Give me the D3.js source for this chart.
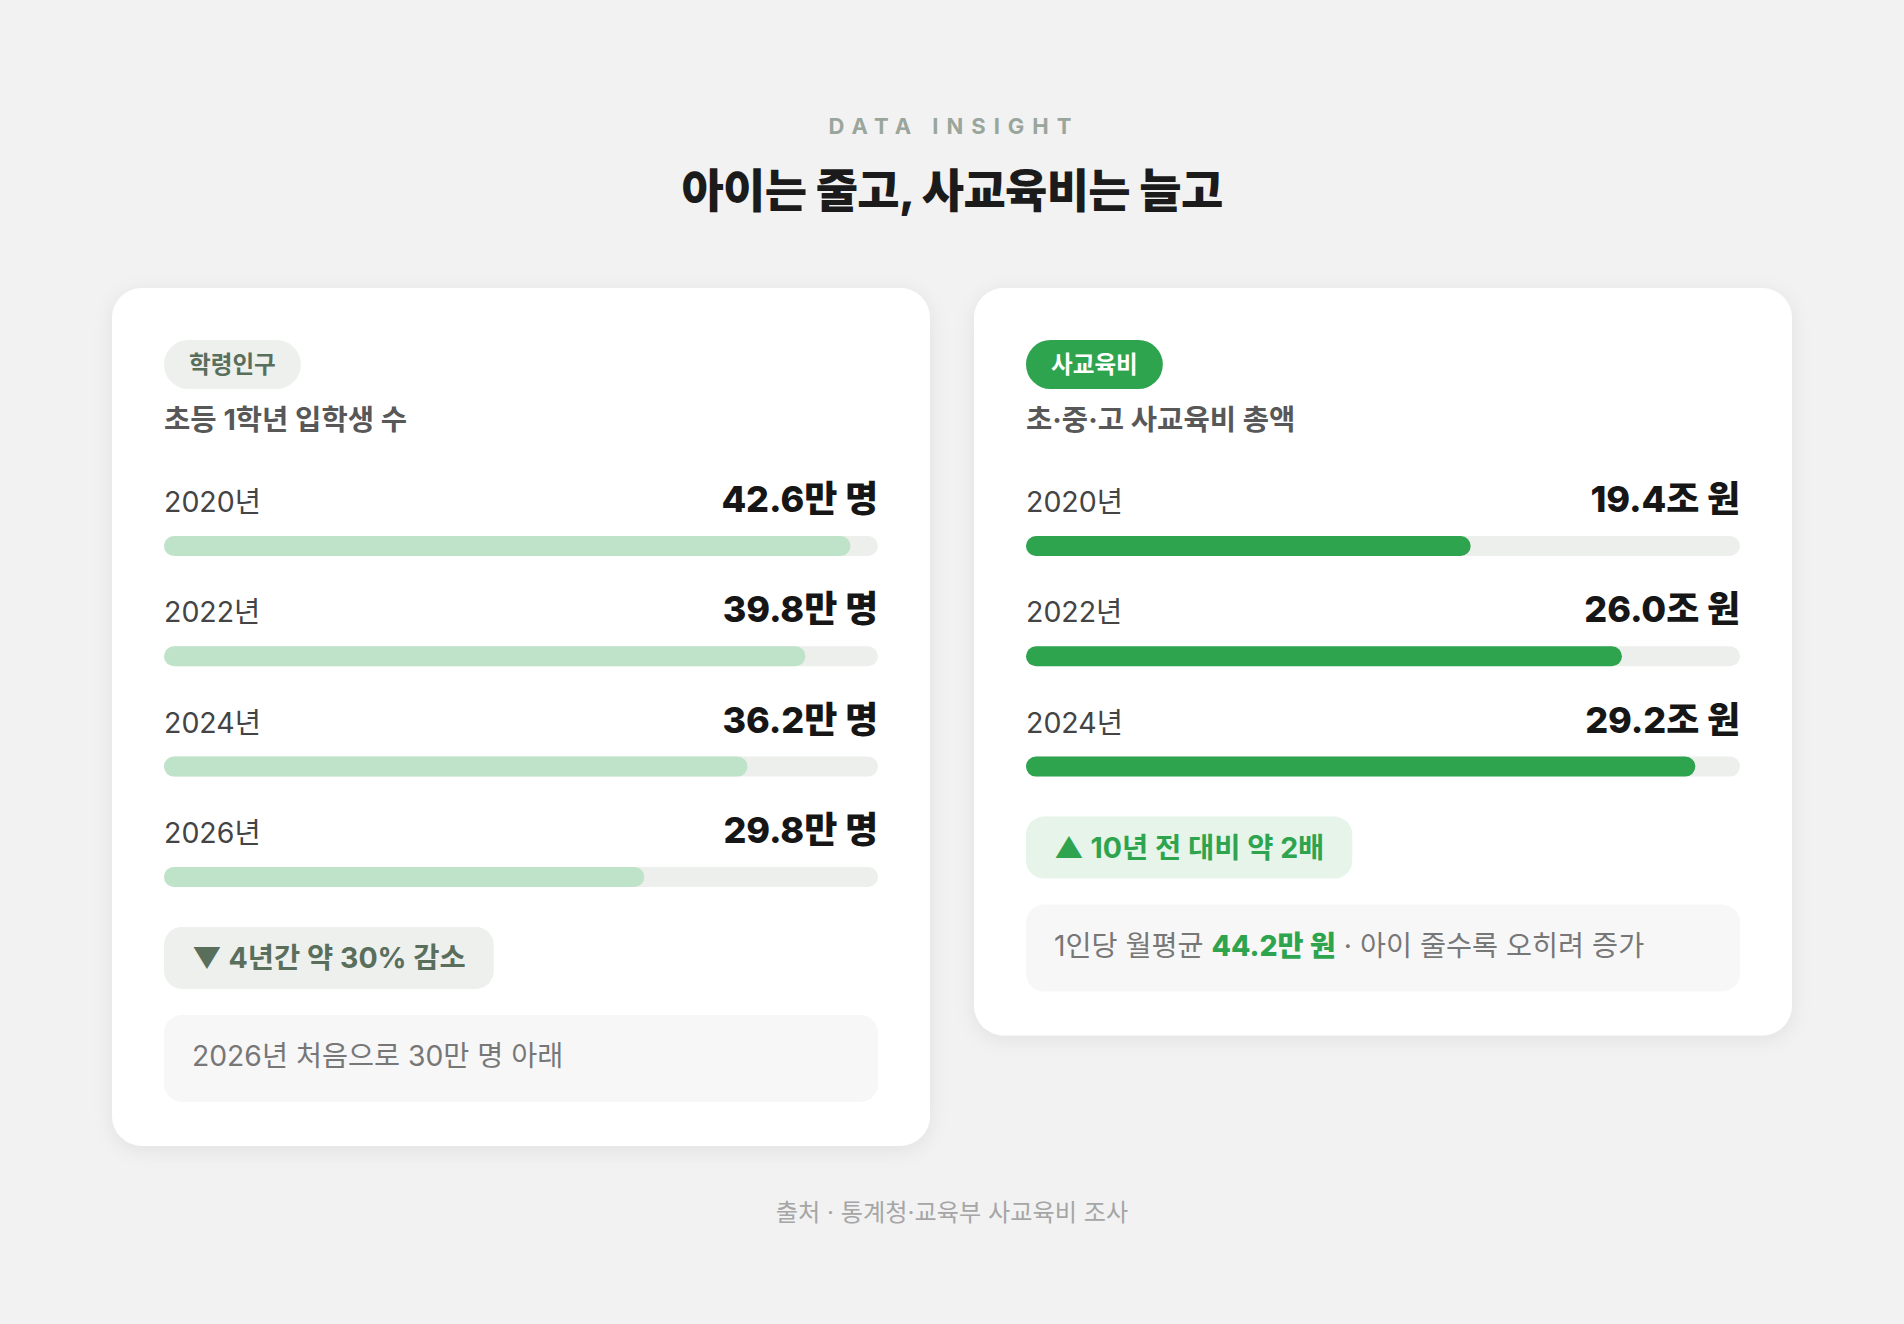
<!DOCTYPE html>
<html lang="ko">
<head>
<meta charset="utf-8">
<script src="https://cdn.jsdelivr.net/npm/d3@7"></script>
<style>
  html, body { margin: 0; padding: 0; background: #f2f2f2; }
  svg { display: block; }
  text { font-family: Inter, "Noto Sans CJK KR", sans-serif; }
</style>
</head>
<body>
<svg id="chart" width="1904" height="1324"></svg>
<script>
// ---------- data ----------
const kicker = "DATA INSIGHT";
const title = "아이는 줄고, 사교육비는 늘고";
const source = "출처 · 통계청·교육부 사교육비 조사";

const popTag = "학령인구";
const popSubtitle = "초등 1학년 입학생 수";
const popYears = ["2020년", "2022년", "2024년", "2026년"];
const popValues = [42.6, 39.8, 36.2, 29.8];
const popUnit = "만 명";
const popBadge = "▼ 4년간 약 30% 감소";
const popNote = [{t: "2026년 처음으로 30만 명 아래", hl: false}];

const eduTag = "사교육비";
const eduSubtitle = "초·중·고 사교육비 총액";
const eduYears = ["2020년", "2022년", "2024년"];
const eduValues = [19.4, 26.0, 29.2];
const eduUnit = "조 원";
const eduBadge = "▲ 10년 전 대비 약 2배";
const eduNote = [
  {t: "1인당 월평균 ", hl: false},
  {t: "44.2만 원", hl: true},
  {t: " · 아이 줄수록 오히려 증가", hl: false}
];

const popDomainMax = 44.3;
const eduDomainMax = 31.15;

// ---------- layout ----------
const W = 1904, H = 1324;
const svg = d3.select("#chart");
svg.append("rect").attr("width", W).attr("height", H).attr("fill", "#f2f2f2");

const defs = svg.append("defs");
const f = defs.append("filter").attr("id", "shadow")
  .attr("x", "-10%").attr("y", "-10%").attr("width", "120%").attr("height", "125%");
f.append("feDropShadow").attr("dx", 0).attr("dy", 4).attr("stdDeviation", 10)
  .attr("flood-color", "#000").attr("flood-opacity", 0.07);

svg.append("text").text(kicker)
  .attr("x", W / 2 + 2).attr("y", 134)
  .attr("text-anchor", "middle")
  .attr("font-size", 22).attr("font-weight", 700)
  .attr("letter-spacing", 8)
  .attr("fill", "#9aa69b");

svg.append("text").text(title)
  .attr("x", W / 2).attr("y", 207)
  .attr("text-anchor", "middle")
  .attr("font-size", 46).attr("font-weight", 800)
  .attr("letter-spacing", -0.7)
  .attr("fill", "#1b1b1b");

svg.append("text").text(source)
  .attr("x", W / 2).attr("y", 1221)
  .attr("text-anchor", "middle")
  .attr("font-size", 24.2).attr("font-weight", 400)
  .attr("fill", "#a6a6a6");

const cardW = 818, cardTop = 288, pad = 52, gap = 44;
const cardX = [(W - 2 * cardW - gap) / 2, (W - 2 * cardW - gap) / 2 + cardW + gap];
const innerW = cardW - 2 * pad;
const rowStep = 110.3;

function drawCard(cx, cfg) {
  const g = svg.append("g").attr("transform", `translate(${cx},${cardTop})`);
  const card = g.append("rect").attr("x", 0).attr("y", 0).attr("width", cardW)
    .attr("rx", 30).attr("ry", 30).attr("fill", "#ffffff").attr("filter", "url(#shadow)");

  // tag pill
  const pill = g.append("rect").attr("x", pad).attr("y", 52)
    .attr("height", 49).attr("rx", 24.5).attr("fill", cfg.tagBg);
  const tagText = g.append("text").text(cfg.tag)
    .attr("x", pad + 25).attr("y", 52 + 24.5 + 8)
    .attr("font-size", 23.6).attr("font-weight", 700)
    .attr("fill", cfg.tagColor);
  pill.attr("width", tagText.node().getComputedTextLength() + 50);

  g.append("text").text(cfg.subtitle)
    .attr("x", pad).attr("y", 142)
    .attr("font-size", 28.6).attr("font-weight", 700)
    .attr("fill", "#585858");

  const x = d3.scaleLinear().domain([0, cfg.domainMax]).range([0, innerW]);
  const y = d3.scaleLinear().domain([0, 1]).range([0, rowStep]);

  const rows = g.selectAll("g.row").data(cfg.years.map((yr, i) => ({yr, v: cfg.values[i], i})))
    .enter().append("g").attr("class", "row")
    .attr("transform", d => `translate(${pad},${224 + y(d.i)})`);

  rows.append("text").text(d => d.yr)
    .attr("x", 0).attr("y", 0)
    .attr("font-size", 28.5).attr("font-weight", 400)
    .attr("fill", "#444444");
  rows.append("text").text(d => d.v.toFixed(1) + cfg.unit)
    .attr("x", innerW).attr("y", 0)
    .attr("text-anchor", "end")
    .attr("font-size", 36).attr("font-weight", 800)
    .attr("letter-spacing", -0.1)
    .attr("fill", "#161616");
  rows.append("rect")
    .attr("x", 0).attr("y", 24).attr("width", innerW).attr("height", 20)
    .attr("rx", 10).attr("fill", "#edefec");
  rows.append("rect")
    .attr("x", 0).attr("y", 24).attr("width", d => x(d.v)).attr("height", 20)
    .attr("rx", 10).attr("fill", cfg.barColor);

  const lastBarBottom = 224 + y(cfg.years.length - 1) + 24 + 20;
  const badgeTop = lastBarBottom + 40, badgeH = 62;
  const badgeRect = g.append("rect").attr("x", pad).attr("y", badgeTop)
    .attr("height", badgeH).attr("rx", 18).attr("fill", cfg.badgeBg);
  const bText = g.append("text").text(cfg.badge)
    .attr("x", pad + 28).attr("y", badgeTop + badgeH / 2 + 10)
    .attr("font-size", 28.5).attr("font-weight", 700)
    .attr("fill", cfg.badgeColor);
  badgeRect.attr("width", bText.node().getComputedTextLength() + 56);

  const noteTop = badgeTop + badgeH + 26, noteH = 87;
  g.append("rect").attr("x", pad).attr("y", noteTop)
    .attr("width", innerW).attr("height", noteH).attr("rx", 18)
    .attr("fill", "#f7f7f7");
  const nt = g.append("text")
    .attr("x", pad + 28).attr("y", noteTop + noteH / 2 + 7.5)
    .attr("font-size", 28.3).attr("font-weight", 400)
    .attr("fill", "#777777");
  nt.selectAll("tspan").data(cfg.note).enter().append("tspan")
    .text(d => d.t)
    .attr("font-weight", d => d.hl ? 800 : 400)
    .attr("fill", d => d.hl ? "#2ea44f" : "#777777");

  card.attr("height", noteTop + noteH + 44);
}

drawCard(cardX[0], {
  tag: popTag, tagBg: "#edf0ed", tagColor: "#5a6e5c",
  subtitle: popSubtitle, years: popYears, values: popValues, unit: popUnit,
  domainMax: popDomainMax, barColor: "#bfe3c9",
  badge: popBadge, badgeBg: "#edf0ed", badgeColor: "#5a6e5c",
  note: popNote
});
drawCard(cardX[1], {
  tag: eduTag, tagBg: "#2ea44f", tagColor: "#ffffff",
  subtitle: eduSubtitle, years: eduYears, values: eduValues, unit: eduUnit,
  domainMax: eduDomainMax, barColor: "#2ea44f",
  badge: eduBadge, badgeBg: "#e6f4ea", badgeColor: "#2ea44f",
  note: eduNote
});
</script>
</body>
</html>
